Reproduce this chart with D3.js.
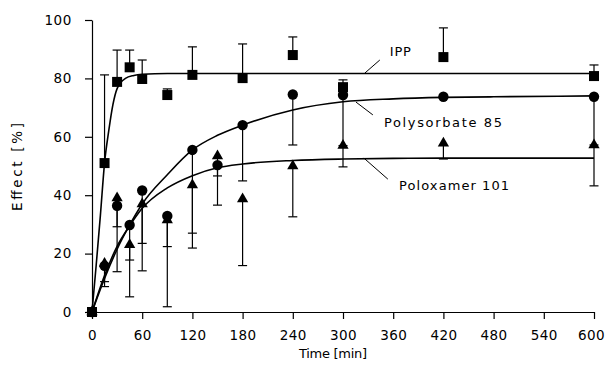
<!DOCTYPE html>
<html>
<head>
<meta charset="utf-8">
<script src="https://cdn.jsdelivr.net/npm/d3@7"></script>
<style>
  body { margin: 0; background: #fff; }
  svg { display: block; }
  text { font-family: "DejaVu Sans", sans-serif; fill: #000; }
</style>
</head>
<body>
<svg id="chart" width="605" height="368"></svg>
<script>
// measured points (min, % effect)
const times = [0, 15, 30, 45, 60, 90, 120, 150, 180, 240, 300, 420, 600];
const ippTimes = [0, 15, 30, 45, 60, 90, 120, 180, 240, 300, 420, 600];
const ippEffect = [0, 51, 78.8, 83.8, 79.8, 74.3, 81.2, 80.1, 88, 77, 87.3, 80.8];
const ippErrHigh = [0, 81.2, 89.7, 89.7, 86.3, 76.4, 90.8, 91.8, 94.2, 79.5, 97.3, 84.6];
const polysorbateEffect = [0, 15.8, 36.4, 29.8, 41.6, 32.9, 55.5, 50.3, 64, 74.5, 74.3, 73.7, 73.7];
const polysorbateErrLow = [0, 10.4, 29.2, 17.8, 23.5, 22.4, 27, 36.6, 44.9, 57.2, 57, 73.2, 57.2];
const poloxamerEffect = [0, 16.6, 39, 23, 37, 31.5, 43.5, 53.4, 38.7, 50, 57, 57.8, 57.2];
const poloxamerErrLow = [0, 8.7, 13.8, 5.2, 14.1, 1.8, 21.9, 46.6, 15.9, 32.6, 49.7, 52.4, 43.2];

// fitted curves
const ippFitTimes = [0, 5, 10, 15, 20, 25, 30, 40, 50, 60, 90, 120, 600];
const ippFit = [0, 16, 33, 51, 62, 71, 76.5, 80, 81, 81.4, 81.7, 81.7, 81.7];
const fitTimes = [0, 15, 30, 45, 60, 90, 120, 150, 180, 240, 300, 360, 420, 480, 600];
const polysorbateFit = [0, 11.5, 21.5, 29.8, 37, 47, 55.5, 60.5, 64, 69.2, 72, 73, 73.5, 73.7, 74];
const poloxamerFit = [0, 12.5, 22.5, 29.5, 35.5, 42.5, 46.7, 49.4, 50.7, 51.9, 52.4, 52.6, 52.7, 52.7, 52.7];

const xTicks = d3.range(0, 601, 60);
const yTicks = d3.range(0, 101, 20);

const svg = d3.select("#chart");
const x = d3.scaleLinear().domain([0, 600]).range([92, 594]);
const y = d3.scaleLinear().domain([0, 100]).range([312, 20]);

// axes
const gx = svg.append("g").attr("transform", `translate(0,${y(0)})`);
gx.call(d3.axisBottom(x).tickValues(d3.range(0, 601, 10)).tickSize(3.5).tickSizeOuter(0).tickFormat(""));
gx.call(d3.axisBottom(x).tickValues(xTicks).tickSize(7).tickSizeOuter(0).tickPadding(11));
gx.selectAll("text").attr("font-size", 13.5).attr("font-family", "DejaVu Sans").attr("letter-spacing", 0.4)
  .attr("dx", d => d === 600 ? -3 : 0);

const gy = svg.append("g").attr("transform", `translate(${x(0)},0)`);
gy.call(d3.axisLeft(y).tickValues(d3.range(0, 101, 10)).tickSize(4).tickSizeOuter(0).tickFormat(""));
gy.call(d3.axisLeft(y).tickValues(yTicks).tickSize(7).tickSizeOuter(0).tickPadding(13));
gy.selectAll("text").attr("font-size", 13.5).attr("font-family", "DejaVu Sans").attr("letter-spacing", 0.6);
svg.selectAll(".domain, .tick line").attr("stroke", "#000").attr("stroke-width", 1.2);

svg.append("text")
  .attr("x", 333).attr("y", 358)
  .attr("text-anchor", "middle").attr("font-size", 13)
  .attr("textLength", 68).attr("lengthAdjust", "spacing")
  .text("Time [min]");

svg.append("text")
  .attr("transform", "translate(22,167) rotate(-90)")
  .attr("text-anchor", "middle").attr("font-size", 13.5)
  .attr("textLength", 88).attr("lengthAdjust", "spacing")
  .text("Effect [%]");

// fit lines
const line = d3.line().x(d => x(d[0])).y(d => y(d[1])).curve(d3.curveMonotoneX);
const fits = [
  d3.zip(ippFitTimes, ippFit),
  d3.zip(fitTimes, polysorbateFit),
  d3.zip(fitTimes, poloxamerFit)
];
svg.append("g").selectAll("path").data(fits).join("path")
  .attr("d", line).attr("fill", "none").attr("stroke", "#000").attr("stroke-width", 1.6);

// error bars
const bars = [
  ...d3.zip(ippTimes, ippEffect, ippErrHigh),
  ...d3.zip(times, polysorbateEffect, polysorbateErrLow),
  ...d3.zip(times, poloxamerEffect, poloxamerErrLow)
].filter(d => d[0] > 0 && Math.abs(d[2] - d[1]) > 0.4);

const eb = svg.append("g").attr("stroke", "#000").attr("stroke-width", 1.2);
eb.selectAll(".stem").data(bars).join("line")
  .attr("x1", d => x(d[0])).attr("x2", d => x(d[0]))
  .attr("y1", d => y(d[1])).attr("y2", d => y(d[2]));
eb.selectAll(".cap").data(bars).join("line").attr("class", "cap")
  .attr("x1", d => x(d[0]) - 4.5).attr("x2", d => x(d[0]) + 4.5)
  .attr("y1", d => y(d[2])).attr("y2", d => y(d[2]));

// markers
const mk = svg.append("g").attr("fill", "#000");
mk.selectAll(".sq").data(d3.zip(ippTimes, ippEffect)).join("rect").attr("class", "sq")
  .attr("x", d => x(d[0]) - 5).attr("y", d => y(d[1]) - 5)
  .attr("width", 10).attr("height", 10);
mk.selectAll(".tri").data(d3.zip(times, poloxamerEffect)).join("path").attr("class", "tri")
  .attr("d", d3.symbol(d3.symbolTriangle, 55))
  .attr("transform", d => `translate(${x(d[0])},${y(d[1])})`);
mk.selectAll(".dot").data(d3.zip(times, polysorbateEffect)).join("circle").attr("class", "dot")
  .attr("cx", d => x(d[0])).attr("cy", d => y(d[1])).attr("r", 5.2);

// curve labels with leader lines
const labels = [
  { text: "IPP", from: [326, 81.8], to: [344, 86.3], at: [356, 87.8], len: 21 },
  { text: "Polysorbate 85", from: [315.5, 71.9], to: [335.7, 67.5], at: [349, 63.3], len: 118 },
  { text: "Poloxamer 101", from: [325, 52.7], to: [353.6, 45.5], at: [367, 41.8], len: 110 }
];
const lg = svg.append("g");
lg.selectAll("line").data(labels).join("line")
  .attr("x1", d => x(d.from[0])).attr("y1", d => y(d.from[1]))
  .attr("x2", d => x(d.to[0])).attr("y2", d => y(d.to[1]))
  .attr("stroke", "#000").attr("stroke-width", 1);
lg.selectAll("text").data(labels).join("text")
  .attr("x", d => x(d.at[0])).attr("y", d => y(d.at[1]))
  .attr("font-size", 13)
  .attr("textLength", d => d.len).attr("lengthAdjust", "spacing")
  .text(d => d.text);
</script>
</body>
</html>
